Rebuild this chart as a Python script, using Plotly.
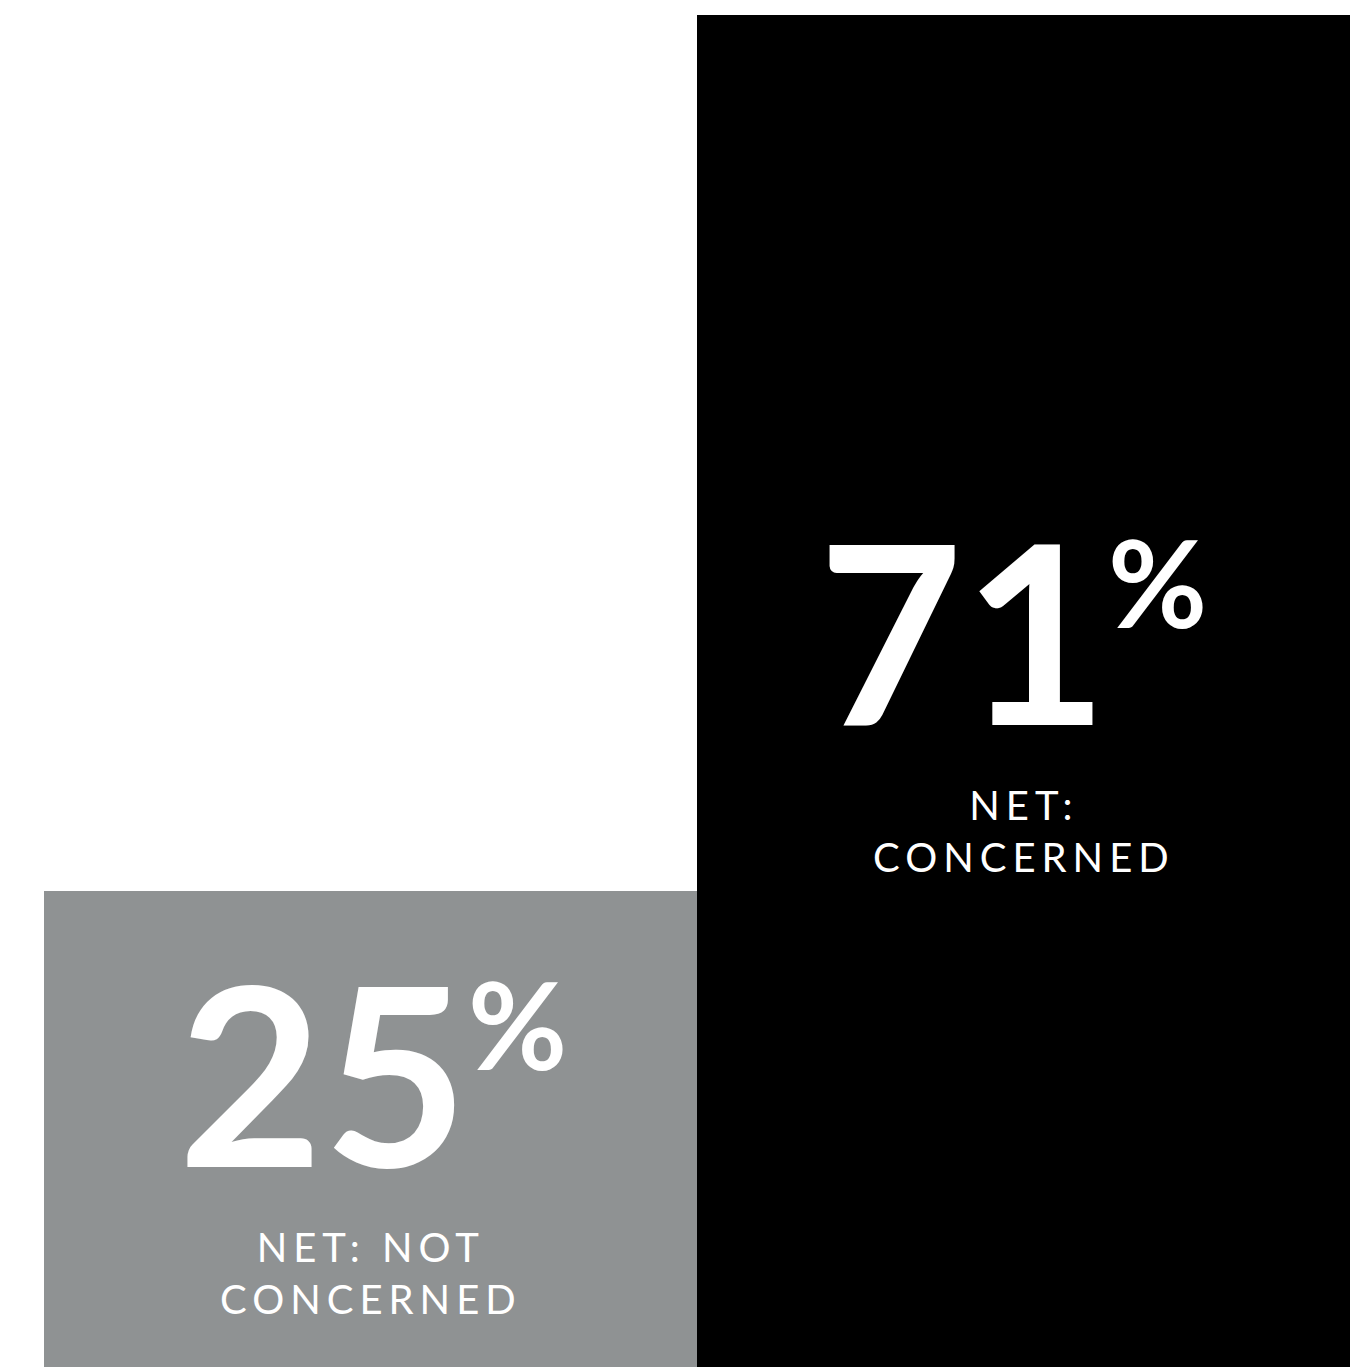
import plotly.graph_objects as go

categories = ["NET: NOT<br>CONCERNED", "NET:<br>CONCERNED"]
values = [25, 71]
value_labels = ["25", "71"]
colors = ["#8f9293", "#000000"]

W, H = 1364, 1367
M_L, M_R, M_T, M_B = 44, 14, 15, 0
plot_h = H - M_T - M_B

def py(p):
    return (H - M_B - p) / plot_h

fig = go.Figure()
fig.add_trace(go.Bar(
    x=[0, 1], y=values,
    marker=dict(color=colors, line=dict(width=0)),
    width=1.0, hoverinfo="skip",
))

# (number xshift, number centre y in px, label centre y in px)
text_pos = [
    (2, 1070, 1273),
    (-11, 628, 831),
]

BIG = 250    # digits
PCT = 121    # percent sign
SHIFT = 97   # raise of the percent sign

annotations = []
for i, (lab, cat) in enumerate(zip(value_labels, categories)):
    dx, ny, ly = text_pos[i]
    txt = (f"{lab}<span style='font-size:{PCT}px;baseline-shift:{SHIFT}px'>%</span>")
    annotations.append(dict(
        x=i, xref="x", y=py(ny), yref="paper", text=txt, showarrow=False,
        xshift=dx, xanchor="center", yanchor="middle",
        font=dict(family="Lato", size=BIG, color="white", weight=700),
    ))
    annotations.append(dict(
        x=i, xref="x", y=py(ly), yref="paper", text=cat, showarrow=False,
        xanchor="center", yanchor="middle", align="center",
        font=dict(family="Lato", size=40, color="white", weight=400),
    ))

fig.update_layout(
    width=W, height=H,
    margin=dict(l=M_L, r=M_R, t=M_T, b=M_B, pad=0),
    paper_bgcolor="white", plot_bgcolor="white",
    bargap=0, showlegend=False,
    xaxis=dict(range=[-0.5, 1.5], visible=False, fixedrange=True),
    yaxis=dict(range=[0, 71], visible=False, fixedrange=True),
    annotations=annotations,
)

post = """
var gd = document.getElementById('{plot_id}');
function spaceLabels() {
  document.querySelectorAll('.annotation-text').forEach(function (t) {
    if (t.textContent.indexOf('NET') >= 0) { t.style.letterSpacing = '6px'; }
  });
}
spaceLabels();
if (gd && gd.on) { gd.on('plotly_afterplot', spaceLabels); }
setTimeout(spaceLabels, 50);
"""

fig.write_html("out.html", config={"displayModeBar": False}, post_script=post)
